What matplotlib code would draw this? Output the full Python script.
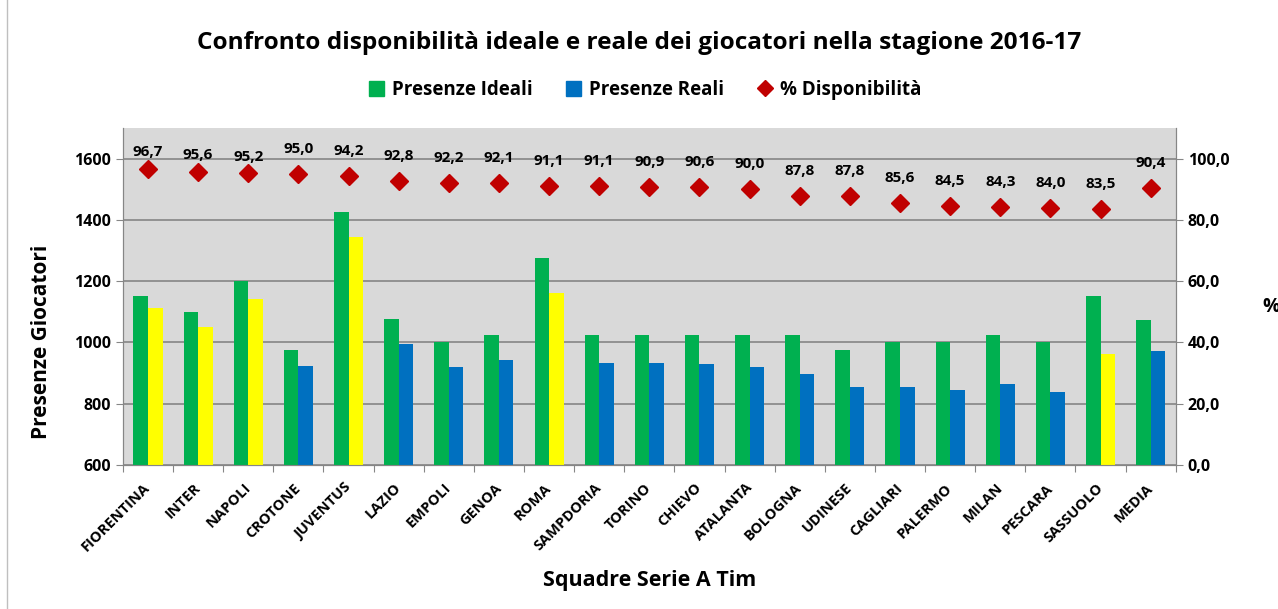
import numpy as np
import matplotlib.pyplot as plt
from matplotlib.lines import Line2D
from matplotlib.patches import Patch, Rectangle

plt.rcParams['font.family'] = ['Open Sans', 'DejaVu Sans']
plt.rcParams['font.weight'] = 'bold'

squadre = ["FIORENTINA", "INTER", "NAPOLI", "CROTONE", "JUVENTUS", "LAZIO", "EMPOLI",
           "GENOA", "ROMA", "SAMPDORIA", "TORINO", "CHIEVO", "ATALANTA", "BOLOGNA",
           "UDINESE", "CAGLIARI", "PALERMO", "MILAN", "PESCARA", "SASSUOLO", "MEDIA"]
ideali = [1150, 1100, 1200, 975, 1425, 1075, 1000, 1025, 1275, 1025, 1025, 1025, 1025,
          1025, 975, 1000, 1000, 1025, 1000, 1150, 1073]
reali = [1112, 1052, 1142, 922, 1343, 996, 920, 944, 1162, 932, 932, 928, 920, 898,
         855, 855, 844, 863, 838, 962, 972]
disp = [96.7, 95.6, 95.2, 95.0, 94.2, 92.8, 92.2, 92.1, 91.1, 91.1, 90.9, 90.6, 90.0,
        87.8, 87.8, 85.6, 84.5, 84.3, 84.0, 83.5, 90.4]
evidenziate = ["FIORENTINA", "INTER", "NAPOLI", "JUVENTUS", "ROMA", "SASSUOLO"]

verde = "#00B050"
blu = "#0070C0"
giallo = "#FFFF00"
rosso = "#C00000"

fig = plt.figure(figsize=(12.78, 6.09), dpi=100)
ax = fig.add_axes([0.0962, 0.2365, 0.8238, 0.5533])
ax2 = ax.twinx()

x = np.arange(len(squadre))
w = 0.29
col_reali = [giallo if s in evidenziate else blu for s in squadre]
ax.bar(x - w / 2, ideali, w, color=verde, zorder=3)
ax.bar(x + w / 2, reali, w, color=col_reali, zorder=3)

ax.set_facecolor("#D9D9D9")
ax.set_xlim(-0.5, len(squadre) - 0.5)
ax.set_ylim(600, 1700)
ax.set_yticks(range(600, 1601, 200))
ax.grid(axis="y", color="#868686", lw=1.2, zorder=0)
ax.set_axisbelow(True)
ax.set_xticks(np.arange(-0.5, len(squadre), 1), minor=False)
ax.set_xticklabels([])
ax.set_xticks(x, minor=True)
ax.set_xticklabels(squadre, minor=True, rotation=45, ha="right", va="center",
                   rotation_mode="anchor", fontsize=10.5, fontweight="bold")
ax.tick_params(axis="x", which="minor", length=0, pad=15)
ax.tick_params(axis="x", which="major", length=5, color="#868686")
ax.tick_params(axis="y", length=5, color="#868686", labelsize=11.5)
for t in ax.get_yticklabels():
    t.set_fontweight("bold")
ax.spines["top"].set_visible(False)
ax2.spines["top"].set_visible(False)
for sp in ["left", "right", "bottom"]:
    ax.spines[sp].set_color("#868686")
    ax2.spines[sp].set_color("#868686")

ax2.plot(x, disp, ls="", marker="D", color=rosso, markersize=9.5, zorder=4)
ax2.set_ylim(0, 110)
ax2.set_yticks(range(0, 101, 20))
ax2.set_yticklabels([f"{v:.1f}".replace(".", ",") for v in range(0, 101, 20)],
                    fontsize=11.5, fontweight="bold")
ax2.tick_params(axis="y", length=5, color="#868686")
# le prime tre etichette stanno un po' piu vicine al marker
spost = [12, 12, 12] + [18] * (len(disp) - 3)
for xi, v, dy in zip(x, disp, spost):
    ax2.annotate(f"{v:.1f}".replace(".", ","), (xi, v), xytext=(0, dy),
                 textcoords="offset points", ha="center", va="center",
                 fontsize=11, fontweight="bold")

ax.set_ylabel("Presenze Giocatori", fontsize=15, fontweight="bold")
ax.yaxis.set_label_coords(-0.067, 0.366)
ax.set_xlabel("Squadre Serie A Tim", fontsize=15.5, fontweight="bold")
ax.xaxis.set_label_coords(0.5, -0.312)
fig.text(1262 / 1278, 1 - 307 / 609, "%", fontsize=14, fontweight="bold",
         ha="left", va="center")

fig.text(0.5, 1 - 43 / 609,
         "Confronto disponibilità ideale e reale dei giocatori nella stagione 2016-17",
         ha="center", va="center", fontsize=17.6, fontweight="bold")

handles = [Patch(color=verde), Patch(color=blu),
           Line2D([], [], ls="", marker="D", color=rosso, markersize=8)]
fig.legend(handles, ["Presenze Ideali", "Presenze Reali", "% Disponibilità"],
           loc="center", bbox_to_anchor=(0.505, 1 - 90 / 609), ncol=3, frameon=False,
           prop={"size": 13.5, "weight": "bold"}, handlelength=0.8, handleheight=0.8,
           handletextpad=0.4, columnspacing=1.8)

fig.patches.append(Rectangle((7 / 1278, -0.01), 1.5, 1.02, transform=fig.transFigure,
                             fill=False, ec="#BFBFBF", lw=1))

fig.savefig("out.png", dpi=100)
